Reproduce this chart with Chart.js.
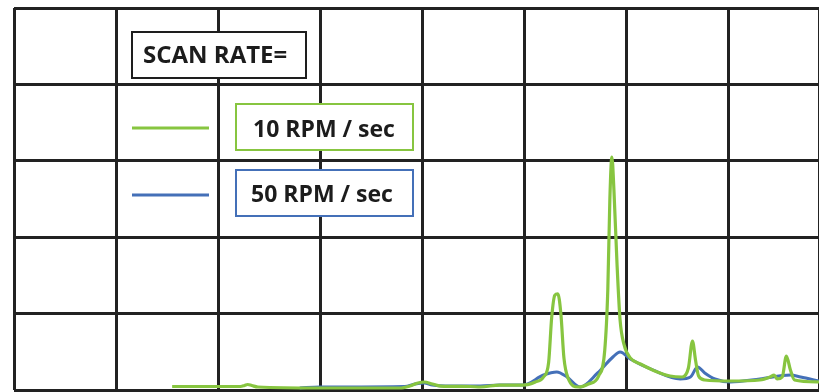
<!DOCTYPE html>
<html>
<head>
<meta charset="utf-8">
<script src="https://cdn.jsdelivr.net/npm/chart.js@4/dist/chart.umd.min.js"></script>
<style>
  html, body { margin: 0; padding: 0; background: #ffffff; }
  #wrap { width: 819px; height: 392px; position: relative; }
</style>
</head>
<body>
<div id="wrap"><canvas id="chart" width="819" height="392"></canvas></div>
<script>
// Scan traces: position along the scan and detector response (grid units x10)
const labels = ['10 RPM / sec', '50 RPM / sec'];
const colors = ['#87c540', '#4470b8'];
const legendTitle = 'SCAN RATE=';

const slowX = [15.5, 22.2, 22.6, 22.9, 23.3, 23.9, 30.0, 37.8, 38.8, 39.6, 40.2, 41.0, 41.8, 44.7, 45.7, 47.6, 49.9,
  51.1, 51.9, 52.4, 52.7, 53.0, 53.3, 53.6, 53.9, 54.3, 55.3, 56.3, 57.3, 57.9, 58.2, 58.4, 58.6, 58.8, 59.1, 59.4, 59.8,
  60.4, 61.4, 62.8, 64.3, 65.5, 66.1, 66.5, 66.8, 67.1, 67.7, 70.2, 73.1, 74.1, 74.5, 74.8, 75.3, 75.7, 76.1, 76.5, 78.9];
const slowY = [0.46, 0.46, 0.59, 0.72, 0.59, 0.39, 0.26, 0.26, 0.52, 0.92, 1.05, 0.79, 0.52, 0.46, 0.39, 0.65, 0.65,
  1.05, 1.70, 3.6, 9.5, 12.4, 12.6, 10.0, 4.2, 1.57, 0.39, 0.79, 1.83, 5.2, 13.1, 24.9, 30.5, 26.2, 16.6, 9.2, 5.9,
  4.2, 3.4, 2.5, 1.83, 1.70, 2.88, 6.4, 3.9, 1.83, 1.31, 1.18, 1.31, 1.70, 1.96, 1.44, 1.70, 4.45, 2.62, 1.31, 1.05];

const fastX = [28.0, 30.0, 38.3, 39.3, 40.2, 41.0, 42.3, 45.7, 47.6, 49.9, 51.9, 53.2, 54.2, 55.5, 57.2, 58.7, 59.4,
  60.4, 62.6, 65.3, 66.3, 67.0, 67.7, 68.7, 70.2, 73.1, 76.1, 77.1, 78.9];
const fastY = [0.26, 0.39, 0.46, 0.79, 0.92, 0.65, 0.52, 0.52, 0.65, 0.65, 1.96, 2.36, 1.70, 0.39, 2.23, 4.32, 4.97,
  4.06, 2.62, 1.44, 1.70, 3.01, 2.23, 1.44, 1.05, 1.44, 1.96, 1.70, 1.18];

const pts = (xs, ys) => xs.map((x, i) => ({ x: x, y: ys[i] }));

// Boxed legend drawn over the grid
const boxedLegend = {
  id: 'boxedLegend',
  afterDraw(chart) {
    const ctx = chart.ctx;
    ctx.save();
    const font = 'bold 23px "Open Sans", sans-serif';
    ctx.textBaseline = 'alphabetic';

    // title box
    ctx.fillStyle = '#ffffff';
    ctx.fillRect(132, 32, 174, 46);
    ctx.lineWidth = 2;
    ctx.strokeStyle = '#1e1e1e';
    ctx.strokeRect(132, 32, 174, 46);
    ctx.fillStyle = '#1c1c1c';
    ctx.font = 'bold 24px "Open Sans", sans-serif';
    ctx.fillText(legendTitle, 143, 63, 150);

    // series entries
    const rows = [{ top: 104, base: 137, lineY: 128, tx: 253 }, { top: 170, base: 202, lineY: 195, tx: 251 }];
    chart.data.datasets.forEach((ds, i) => {
      const r = rows[i];
      ctx.strokeStyle = ds.borderColor;
      ctx.lineWidth = 3;
      ctx.beginPath();
      ctx.moveTo(132, r.lineY);
      ctx.lineTo(209, r.lineY);
      ctx.stroke();

      ctx.fillStyle = '#ffffff';
      ctx.fillRect(236, r.top, 177, 46);
      ctx.lineWidth = 2;
      ctx.strokeRect(236, r.top, 177, 46);
      ctx.fillStyle = '#1c1c1c';
      ctx.font = font;
      ctx.fillText(ds.label, r.tx, r.base, 142);
    });
    ctx.restore();
  }
};

new Chart(document.getElementById('chart'), {
  type: 'line',
  data: {
    datasets: [
      { label: labels[0], data: pts(slowX, slowY), borderColor: colors[0], borderWidth: 3.2, order: 0 },
      { label: labels[1], data: pts(fastX, fastY), borderColor: colors[1], borderWidth: 3, order: 1 }
    ]
  },
  options: {
    responsive: false,
    animation: false,
    layout: { padding: { left: 14, top: 8, right: 0, bottom: 2 } },
    elements: {
      point: { radius: 0 },
      line: { cubicInterpolationMode: 'monotone', fill: false }
    },
    plugins: { legend: { display: false }, tooltip: { enabled: false } },
    scales: {
      x: {
        type: 'linear', min: 0, max: 78.9,
        ticks: { display: false, stepSize: 10 },
        grid: { color: '#222222', lineWidth: 3, drawTicks: false },
        border: { display: false }
      },
      y: {
        min: 0, max: 50,
        ticks: { display: false, stepSize: 10 },
        grid: { color: '#222222', lineWidth: 3, drawTicks: false },
        border: { display: false }
      }
    }
  },
  plugins: [boxedLegend]
});
</script>
</body>
</html>
